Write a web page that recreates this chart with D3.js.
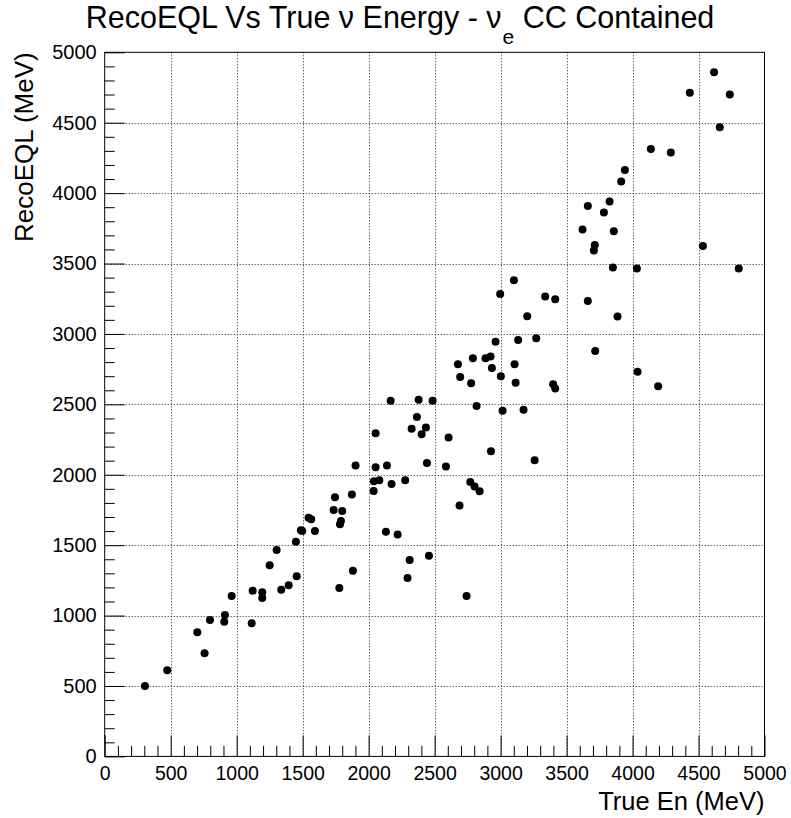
<!DOCTYPE html>
<html>
<head>
<meta charset="utf-8">
<script src="https://cdn.jsdelivr.net/npm/d3@7"></script>
<style>
  html, body { margin: 0; padding: 0; background: #fff; }
  svg { display: block; font-family: "Liberation Sans", Arial, Helvetica, sans-serif; }
</style>
</head>
<body>
<svg id="chart" width="791" height="818"></svg>
<script>
// ---- data ----
const trueEnergy = [
  305, 474, 702, 757, 798, 911, 906, 962, 1114, 1121,
  1194, 1194, 1250, 1303, 1338, 1394, 1455, 1449, 1487, 1497,
  1545, 1565, 1593, 1735, 1745, 1800, 1790, 1783, 1778, 1873,
  1881, 1901, 2040, 2038, 2053, 2081, 2131, 2139, 2174, 2053,
  2220, 2167, 2277, 2311, 2295, 2326, 2366, 2379, 2402, 2434,
  2442, 2457, 2485, 2586, 2606, 2689, 2742, 2770, 2803, 2841,
  2677, 2694, 2790, 2777, 2818, 2886, 2924, 2934, 2962, 2927,
  3002, 3015, 3106, 3114, 3133, 3174, 3202, 3258, 3270, 3398,
  3414, 3414, 3661, 3717, 3101, 2997, 3338, 4618, 4434, 4737,
  4661, 4139, 4290, 3942, 3914, 3661, 3826, 3783, 3621, 3858,
  3714, 3707, 4533, 3851, 4033, 4805, 3886, 4038, 4194
];
const recoEQL = [
  500, 611, 881, 732, 969, 1004, 957, 1139, 945, 1177,
  1165, 1125, 1357, 1466, 1184, 1215, 1279, 1525, 1606, 1601,
  1695, 1684, 1601, 1750, 1840, 1743, 1672, 1648, 1196, 1859,
  1319, 2065, 1954, 1885, 2053, 1961, 1596, 2065, 1935, 2295,
  1575, 2526, 1961, 1395, 1267, 2327, 2410, 2533, 2288, 2335,
  2084, 1425, 2526, 2058, 2264, 1781, 1139, 1949, 1916, 1883,
  2785, 2695, 2827, 2650, 2489, 2827, 2839, 2759, 2945, 2167,
  2700, 2455, 2785, 2654, 2957, 2462, 3126, 2103, 2969, 2643,
  2612, 3246, 3234, 2879, 3381, 3284, 3265, 4859, 4712, 4700,
  4468, 4314, 4288, 4165, 4082, 3909, 3940, 3862, 3741, 3729,
  3632, 3592, 3625, 3471, 3464, 3464, 3123, 2732, 2629
];
const xTicks = [0, 500, 1000, 1500, 2000, 2500, 3000, 3500, 4000, 4500, 5000];
const yTicks = [0, 500, 1000, 1500, 2000, 2500, 3000, 3500, 4000, 4500, 5000];
const xMinor = d3.range(0, 5001, 100);
const yMinor = d3.range(0, 5001, 100);

// ---- layout ----
const W = 791, H = 818;
const L = 104.7, R = 764.5, T = 52.3, B = 756.4;
const pw = R - L, ph = B - T;

const svg = d3.select("#chart");
svg.append("rect").attr("width", W).attr("height", H).attr("fill", "#fff");

const x = d3.scaleLinear().domain([0, 5000]).range([L, R]);
const y = d3.scaleLinear().domain([0, 5000]).range([B, T]);

// grid
const grid = svg.append("g").attr("class", "grid");
grid.selectAll("line.gx").data(xTicks.slice(1, -1)).join("line")
  .attr("x1", d => Math.round(x(d)) + 0.5).attr("x2", d => Math.round(x(d)) + 0.5)
  .attr("y1", T).attr("y2", B)
  .attr("stroke", "#222").attr("stroke-width", 1).attr("stroke-dasharray", "1,2");
grid.selectAll("line.gy").data(yTicks.slice(1, -1)).join("line")
  .attr("y1", d => Math.round(y(d)) + 0.5).attr("y2", d => Math.round(y(d)) + 0.5)
  .attr("x1", L).attr("x2", R)
  .attr("stroke", "#222").attr("stroke-width", 1).attr("stroke-dasharray", "1,2");

// minor ticks (inward)
const xMinorAxis = d3.axisBottom(x).tickValues(xMinor.filter(v => v % 500 !== 0))
  .tickSizeInner(-10.5).tickSizeOuter(0).tickFormat("");
svg.append("g").attr("transform", `translate(0,${B})`).call(xMinorAxis)
  .call(g => g.select(".domain").remove());
const yMinorAxis = d3.axisLeft(y).tickValues(yMinor.filter(v => v % 500 !== 0))
  .tickSizeInner(-10).tickSizeOuter(0).tickFormat("");
svg.append("g").attr("transform", `translate(${L},0)`).call(yMinorAxis)
  .call(g => g.select(".domain").remove());

// major axes
const xAxis = d3.axisBottom(x).tickValues(xTicks).tickSizeInner(-21).tickSizeOuter(0)
  .tickPadding(10).tickFormat(d3.format("d"));
const gx = svg.append("g").attr("transform", `translate(0,${B})`).call(xAxis);
gx.select(".domain").remove();
gx.selectAll("text").attr("font-size", 19.5).attr("fill", "#000")
  .attr("font-family", "Liberation Sans, Arial, sans-serif");

const yAxis = d3.axisLeft(y).tickValues(yTicks).tickSizeInner(-20).tickSizeOuter(0)
  .tickPadding(8).tickFormat(d3.format("d"));
const gy = svg.append("g").attr("transform", `translate(${L},0)`).call(yAxis);
gy.select(".domain").remove();
gy.selectAll("text").attr("font-size", 20).attr("fill", "#000")
  .attr("font-family", "Liberation Sans, Arial, sans-serif");

svg.selectAll(".tick line").attr("stroke", "#000");

// frame
svg.append("rect").attr("x", L).attr("y", T).attr("width", pw).attr("height", ph)
  .attr("fill", "none").attr("stroke", "#000").attr("stroke-width", 1);

// points
svg.append("g").selectAll("circle").data(trueEnergy.map((d, i) => [d, recoEQL[i]]))
  .join("circle")
  .attr("cx", d => x(d[0])).attr("cy", d => y(d[1]))
  .attr("r", 4).attr("fill", "#000");

// titles
const title = svg.append("text").attr("x", 400).attr("y", 28)
  .attr("text-anchor", "middle").attr("font-size", 30.5).attr("fill", "#000");
title.append("tspan").text("RecoEQL Vs True \u03bd Energy - \u03bd");
title.append("tspan").attr("font-size", 21).attr("dy", 16).attr("dx", 1).text("e");
title.append("tspan").attr("dy", -16).text(" CC Contained");

svg.append("text").attr("x", R).attr("y", 810).attr("text-anchor", "end")
  .attr("font-size", 25.5).attr("fill", "#000").text("True En (MeV)");

svg.append("text").attr("transform", `translate(33,${T}) rotate(-90)`)
  .attr("text-anchor", "end").attr("font-size", 26).attr("fill", "#000")
  .text("RecoEQL (MeV)");
</script>
</body>
</html>
